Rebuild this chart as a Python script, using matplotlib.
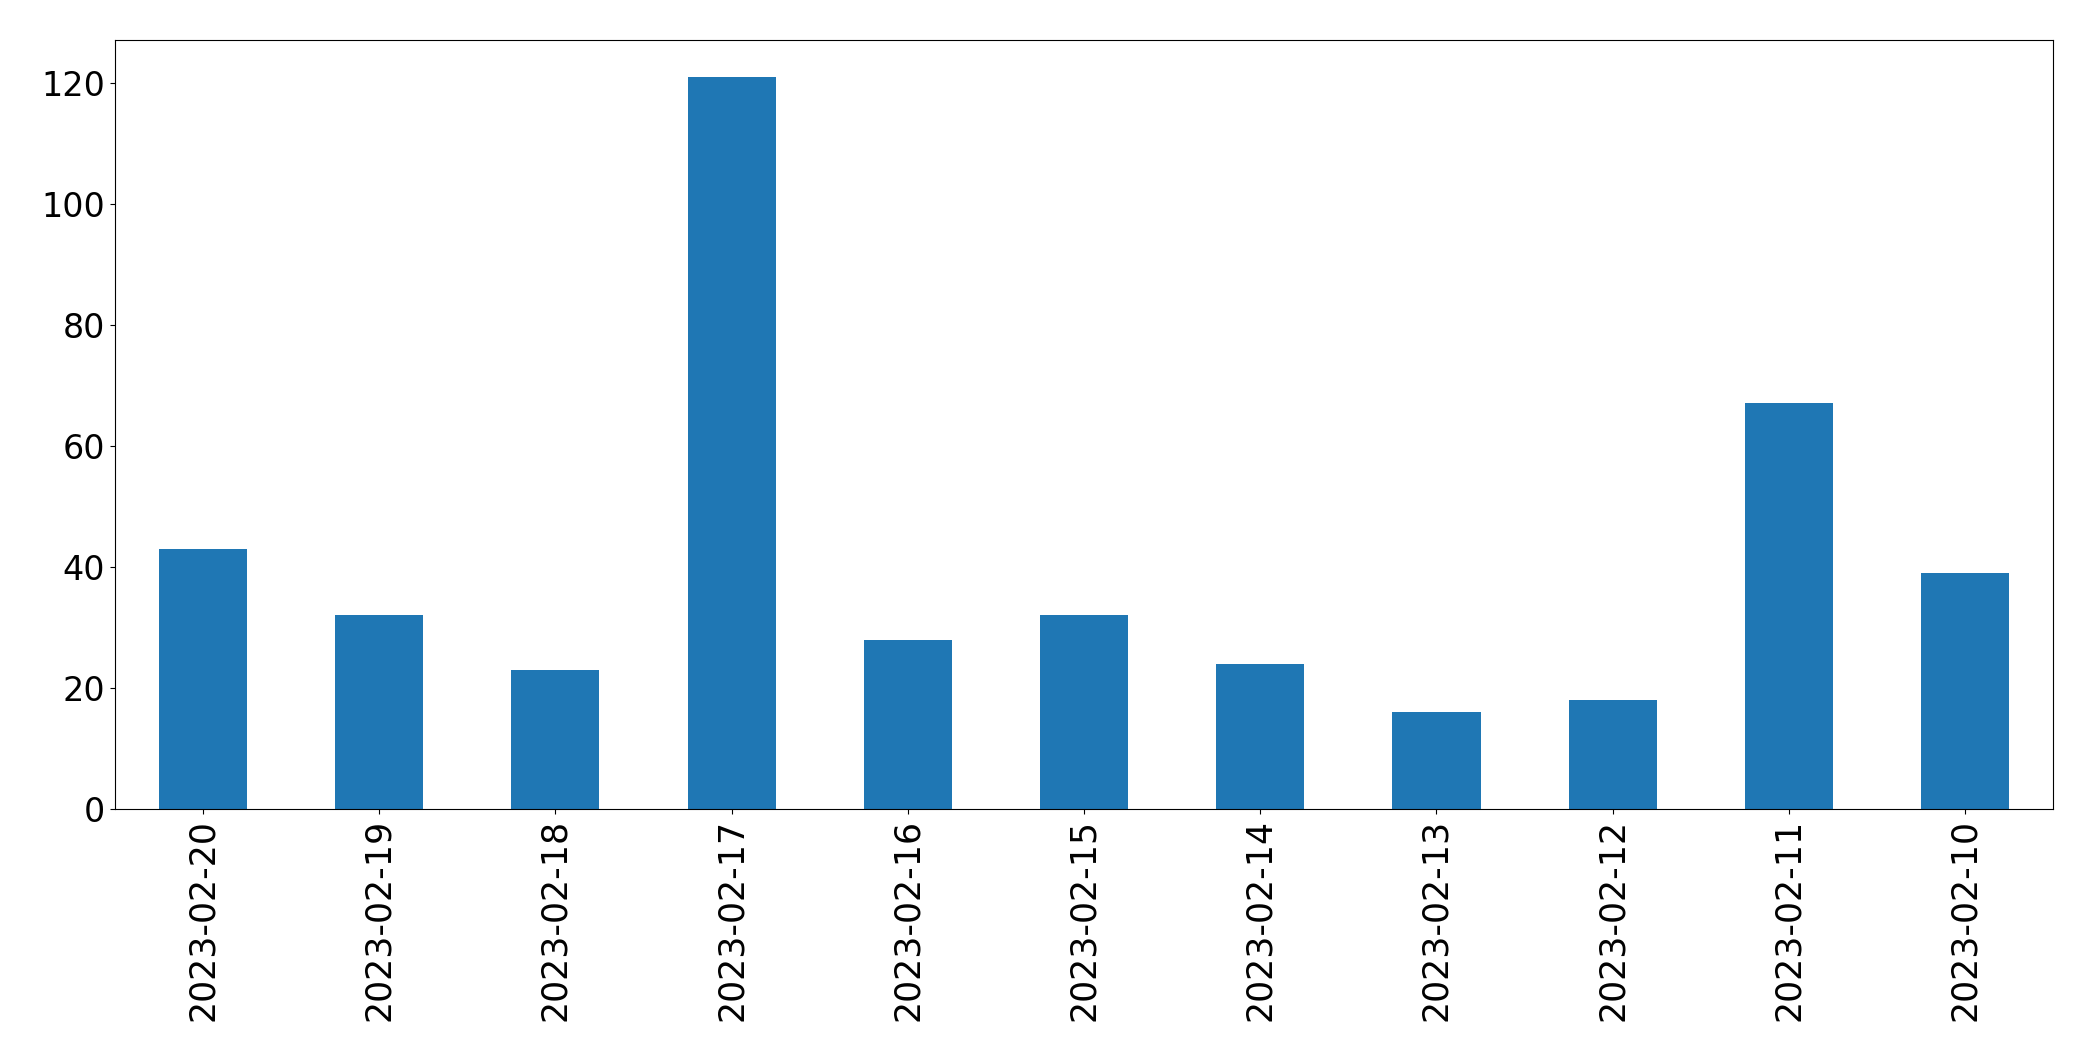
import matplotlib
matplotlib.use("Agg")
import matplotlib.pyplot as plt

dates = ["2023-02-20", "2023-02-19", "2023-02-18", "2023-02-17", "2023-02-16",
         "2023-02-15", "2023-02-14", "2023-02-13", "2023-02-12", "2023-02-11", "2023-02-10"]
counts = [43, 32, 23, 121, 28, 32, 24, 16, 18, 67, 39]

fig = plt.figure(figsize=(20.93, 10.61), dpi=100)
ax = fig.add_axes([0.0549, 0.2375, 0.9261, 0.7248])
x = list(range(len(dates)))
ax.bar(x, counts, width=0.5, color="#1f77b4")
ax.set_xlim(-0.5, len(dates) - 0.5)
ax.set_ylim(0, max(counts) * 1.05)
ax.set_xticks(x)
ax.set_xticklabels(dates, rotation=90, fontsize=25)
ax.tick_params(axis="y", labelsize=24)
fig.savefig("out.png", dpi=100)
